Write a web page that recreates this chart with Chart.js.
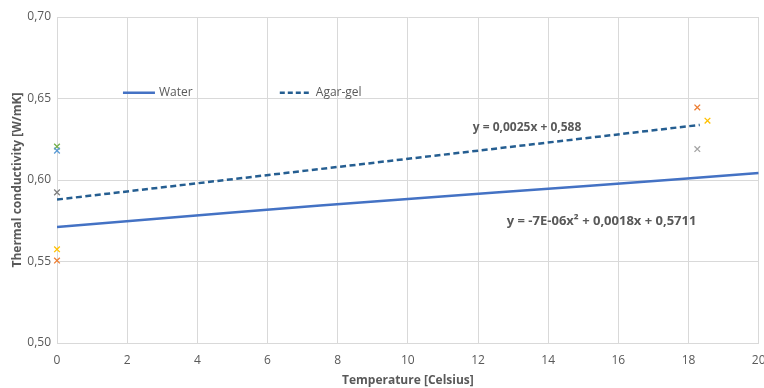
<!DOCTYPE html>
<html lang="en">
<head>
<meta charset="UTF-8">
<title>Thermal conductivity</title>
<script src="https://cdn.jsdelivr.net/npm/chart.js"></script>
<style>
  html, body { margin: 0; padding: 0; background: #fff; overflow: hidden; }
</style>
</head>
<body>
<canvas id="myChart" width="764" height="388"></canvas>
<script>
  // trend lines
  var waterX = [0, 5, 10, 15, 20]
  var waterY = [0.5711, 0.5800, 0.5884, 0.5962, 0.6043]
  var agarX = [0, 18.32]
  var agarY = [0.588, 0.6338]

  // measured points (x markers)
  var pointsX = [0, 0, 0, 0, 0, 18.25, 18.54, 18.25]
  var pointsY = [0.6205, 0.618, 0.5924, 0.5575, 0.5506, 0.6445, 0.6364, 0.619]
  var pointColors = ['#70AD47', '#5B9BD5', '#7F7F7F', '#FFC000', '#ED7D31', '#ED7D31', '#FFC000', '#A5A5A5']

  var xTicks = [0, 2, 4, 6, 8, 10, 12, 14, 16, 18, 20]
  var yTicks = ['0,50', '0,55', '0,60', '0,65', '0,70']

  var legendNames = ['Water', 'Agar-gel']
  var equations = ['y = 0,0025x + 0,588', 'y = -7E-06x² + 0,0018x + 0,5711']

  function pairs(xs, ys) {
    return xs.map(function (x, i) { return { x: x, y: ys[i] } })
  }

  const textGrey = '#595959'
  const font = "'Open Sans', 'Liberation Sans', sans-serif"

  // legend + equation labels drawn inside the plot area
  var labelsPlugin = {
    id: 'labels',
    afterDatasetsDraw: function (chart) {
      var c = chart.ctx, xs = chart.scales.x, ys = chart.scales.y
      c.save()
      c.font = '12px ' + font
      c.fillStyle = textGrey
      c.textBaseline = 'middle'
      var ly = ys.getPixelForValue(0.6535)
      var spots = [1.88, 6.35]
      legendNames.forEach(function (name, i) {
        var lx = xs.getPixelForValue(spots[i])
        c.beginPath()
        c.strokeStyle = i == 0 ? '#4472C4' : '#255E91'
        c.lineWidth = 2.5
        c.setLineDash(i == 0 ? [] : [5, 3])
        c.moveTo(lx, ly)
        c.lineTo(lx + 32, ly)
        c.stroke()
        c.setLineDash([])
        c.fillText(name, lx + 36, ly)
      })
      c.font = 'bold 12px ' + font
      c.fillText(equations[0], xs.getPixelForValue(11.85), ys.getPixelForValue(0.632))
      c.font = 'bold 13px ' + font
      c.fillText(equations[1], xs.getPixelForValue(12.82), ys.getPixelForValue(0.5746))
      c.restore()
    }
  }

  const ctx = document.getElementById('myChart')

  new Chart(ctx, {
    type: 'scatter',
    data: {
      datasets: [
        {
          type: 'line',
          data: pairs(waterX, waterY),
          borderColor: '#4472C4',
          borderWidth: 2.5,
          pointRadius: 0,
          tension: 0.4
        },
        {
          type: 'line',
          data: pairs(agarX, agarY),
          borderColor: '#255E91',
          borderWidth: 2.5,
          borderDash: [6, 3.5],
          pointRadius: 0
        },
        {
          data: pairs(pointsX, pointsY),
          pointStyle: 'crossRot',
          pointRadius: 4,
          borderWidth: 1.3,
          borderColor: pointColors,
          backgroundColor: pointColors,
          clip: false
        }
      ]
    },
    options: {
      responsive: false,
      animation: false,
      devicePixelRatio: 1,
      layout: { padding: { top: 17, right: 5, left: 0, bottom: 0 } },
      plugins: {
        legend: { display: false },
        tooltip: { enabled: false }
      },
      scales: {
        x: {
          type: 'linear',
          min: 0,
          max: 20,
          afterBuildTicks: function (s) { s.ticks = xTicks.map(function (v) { return { value: v } }) },
          afterFit: function (s) { s.height = 45; s.paddingRight = 0; s.paddingLeft = 0 },
          grid: { color: '#d9d9d9', drawTicks: false },
          border: { color: '#d9d9d9' },
          ticks: { color: textGrey, font: { family: font, size: 12 }, padding: 10, maxRotation: 0 },
          title: {
            display: true,
            text: 'Temperature [Celsius]',
            color: textGrey,
            font: { family: font, size: 12, weight: 'bold' },
            padding: { top: 2, bottom: 0 }
          }
        },
        y: {
          min: 0.5,
          max: 0.7,
          afterBuildTicks: function (s) { s.ticks = yTicks.map(function (t) { return { value: parseFloat(t.replace(',', '.')) } }) },
          afterFit: function (s) { s.width = 57 },
          grid: { color: '#d9d9d9', drawTicks: false },
          border: { color: '#d9d9d9' },
          ticks: {
            color: textGrey,
            font: { family: font, size: 12 },
            padding: 6,
            callback: function (v, i) { return yTicks[i] }
          },
          title: {
            display: true,
            text: 'Thermal conductivity [W/mK]',
            color: textGrey,
            font: { family: font, size: 12, weight: 'bold' },
            padding: { top: 10, bottom: 0 }
          }
        }
      }
    },
    plugins: [labelsPlugin]
  })
</script>
</body>
</html>
